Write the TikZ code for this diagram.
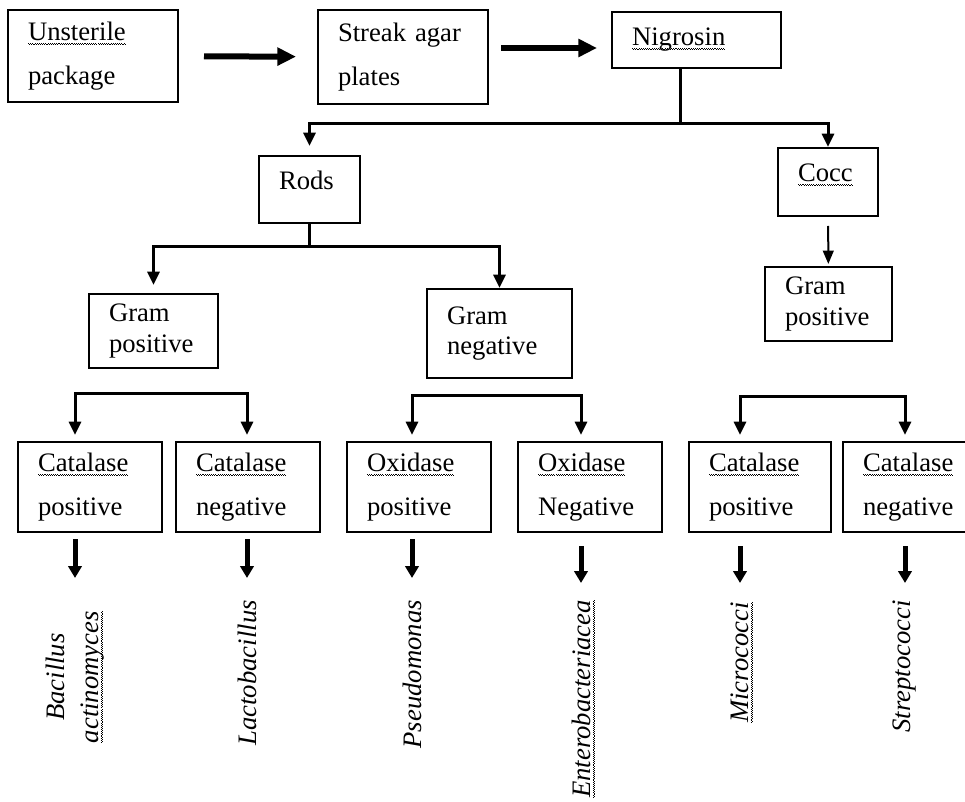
\documentclass[tikz,border=0pt]{standalone}
\usepackage{fontspec}
\setmainfont{Liberation Serif}
\usetikzlibrary{arrows.meta,positioning}
% wavy underline (spell-check squiggle), built from small rules
\newcommand\squig[1]{\leavevmode\setbox0\hbox{#1}%
  \rlap{\smash{\hbox to \wd0{\xleaders\hbox{\vrule height -1.8pt depth 2.6pt width 0.8pt\vrule height -2.6pt depth 3.4pt width 0.8pt}\hfill}}}\box0}
\tikzset{
  box/.style={draw, line width=1.5pt, align=left, inner xsep=15pt, inner ysep=0pt, font={\fontsize{20pt}{23pt}\selectfont}},
  wide/.style={box, font={\fontsize{20pt}{33pt}\selectfont}},
  testbox/.style={wide, minimum height=67.5pt, text width=78pt},
  taxon/.style={rotate=90, anchor=east, inner sep=0pt, align=center, font={\fontsize{20pt}{26pt}\selectfont\itshape}},
  bigarrow/.style={-{Triangle[length=14pt,width=13pt]}, line width=4.5pt},
  fork/.style={line width=2.25pt},
  forkarrow/.style={{Triangle[length=10pt,width=9pt]}-{Triangle[length=10pt,width=9pt]}, line width=2.25pt},
  thinarrow/.style={-{Triangle[length=10pt,width=8pt]}, line width=1.5pt},
  downarrow/.style={-{Triangle[length=9pt,width=10pt]}, line width=3.75pt}
}
\begin{document}
\begin{tikzpicture}[x=0.75pt, y=-0.75pt, node distance=9pt]
\fill[white] (0,0) rectangle (965,802);
\useasboundingbox (0,0) rectangle (965,802);
% top row
\node[wide, text width=97.5pt, minimum height=69pt] (pkg) at (93,56) {\squig{Unsterile}\\package};
\node[wide, text width=97.5pt, minimum height=70.5pt] (streak) at (403,57) {Streak agar\\plates};
\node[box, text width=96.75pt, minimum height=42pt] (nigro) at (696.5,40) {\squig{Nigrosin}};
% shape
\node[box, text width=45.75pt, minimum height=50.25pt, text depth=14pt] (rods) at (309.5,189.5) {Rods};
\node[box, text width=45pt, minimum height=51pt, text depth=14pt] (cocc) at (828,182) {\squig{Cocc}};
% gram stain
\node[box, text width=66.75pt, minimum height=55.5pt] (gpos) at (153.5,331) {Gram\\positive};
\node[box, text width=78.75pt, minimum height=66.75pt] (gneg) at (499.5,333.5) {Gram\\negative};
\node[box, text width=65.25pt, minimum height=55.5pt] (cgpos) at (828.5,304) {Gram\\positive};
% tests
\node[testbox] (catp1) at (90,487) {\squig{Catalase}\\positive};
\node[testbox, right=of catp1] (catn1) {\squig{Catalase}\\negative};
\node[testbox, right=18.75pt of catn1] (oxp) {\squig{Oxidase}\\positive};
\node[testbox, right=18.75pt of oxp] (oxn) {\squig{Oxidase}\\Negative};
\node[testbox, text width=76.5pt, right=18.75pt of oxn] (catp2) {\squig{Catalase}\\positive};
\node[testbox, text width=68.25pt, right=7.5pt of catp2] (catn2) {\squig{Catalase}\\negative};
% organisms
\node[taxon] (bac) at (75,611) {Bacillus\\\squig{actinomyces}};
\node[taxon] (lacto) at (247,600) {Lactobacillus};
\node[taxon] (pseudo) at (412,600) {Pseudomonas};
\node[taxon] (entero) at (581,600) {\squig{Enterobacteriacea}};
\node[taxon] (micro) at (740,602) {\squig{Micrococci}};
\node[taxon] (strepto) at (905,600) {Streptococci};
% forks
\coordinate (nigfork) at (680,124);
\coordinate (rodfork) at (309.5,247);
\coordinate (gpfork) at (160,394);
\coordinate (gnfork) at (500,396);
\coordinate (ccfork) at (820,397);
\draw[bigarrow, shorten <=18.75pt, shorten >=15.75pt] (pkg) -- (streak);
\draw[bigarrow, shorten <=9pt, shorten >=10.5pt] ([yshift=6.75pt]streak.east) -- ([yshift=6.75pt]streak.east -| nigro.west);
\draw[fork] (nigfork |- nigro.south) -- (nigfork);
\draw[forkarrow, shorten <=6.75pt] (rods.north) |- (nigfork) -| (cocc.north);
\draw[fork] (rods) -- (rodfork);
\draw[forkarrow, shorten <=6pt] (gpos.north) |- (rodfork) -| (gneg.north);
\draw[thinarrow, shorten <=6.75pt, shorten >=1.5pt] (cocc) -- (cgpos);
\draw[forkarrow, shorten <=4.5pt, shorten >=4.5pt] (catp1.north -| bac) |- (gpfork) -| (catn1.north -| lacto);
\draw[forkarrow, shorten <=4.5pt, shorten >=4.5pt] (oxp.north -| pseudo) |- (gnfork) -| (oxn.north -| entero);
\draw[forkarrow, shorten <=4.5pt, shorten >=4.5pt] (catp2.north -| micro) |- (ccfork) -| (catn2.north -| strepto);
\draw[downarrow, shorten <=4.5pt, shorten >=24.75pt] (catp1.south -| bac) -- (bac.east);
\draw[downarrow, shorten <=4.5pt, shorten >=16.5pt] (catn1.south -| lacto) -- (lacto.east);
\draw[downarrow, shorten <=4.5pt, shorten >=16.5pt] (oxp.south -| pseudo) -- (pseudo.east);
\draw[downarrow, shorten <=9.75pt, shorten >=12.75pt] (oxn.south -| entero) -- (entero.east);
\draw[downarrow, shorten <=9.75pt, shorten >=14.25pt] (catp2.south -| micro) -- (micro.east);
\draw[downarrow, shorten <=9.75pt, shorten >=12.75pt] (catn2.south -| strepto) -- (strepto.east);
\end{tikzpicture}
\end{document}
